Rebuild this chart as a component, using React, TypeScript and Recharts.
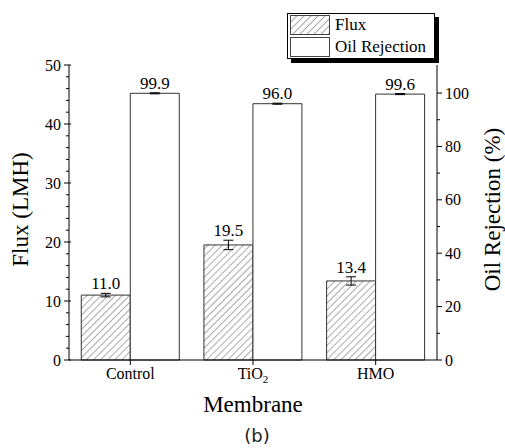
import { ComposedChart, Bar, XAxis, YAxis, ErrorBar, LabelList } from 'recharts';

const membranes = ['Control', 'TiO2', 'HMO'];
const flux = [11.0, 19.5, 13.4];
const fluxErr = [0.3, 0.8, 0.7];
const rejection = [99.9, 96.0, 99.6];
const rejectionErr = [0.2, 0.2, 0.2];
const fluxTicks = [0, 2, 4, 6, 8, 10, 12, 14, 16, 18, 20, 22, 24, 26, 28, 30, 32, 34, 36, 38, 40, 42, 44, 46, 48, 50];
const rejectionTicks = [0, 10, 20, 30, 40, 50, 60, 70, 80, 90, 100];

const data = membranes.map((name, i) => ({
    name,
    flux: flux[i],
    fluxErr: fluxErr[i],
    rejection: rejection[i],
    rejectionErr: rejectionErr[i],
}));

const SERIF = '"Liberation Serif", "Times New Roman", serif';

// axis ticks: labelled majors, shorter unlabelled minors
const YTick = (props: any) => {
    const { x, y, payload, side, every } = props;
    const major = payload.value % every === 0;
    const len = major ? 5 : 3;
    const dir = side === 'left' ? -1 : 1;
    return (
        <g>
            <line x1={major && side === 'left' ? x + 2 : x} x2={x + dir * len} y1={y} y2={y} stroke="#000" />
            {major && (
                <text
                    x={x + dir * (len + 3)}
                    y={y}
                    textAnchor={side === 'left' ? 'end' : 'start'}
                    dominantBaseline="central"
                    style={{ fontFamily: SERIF, fontSize: 16 }}
                    fill="#000"
                >
                    {payload.value}
                </text>
            )}
        </g>
    );
};

const XTick = (props: any) => {
    const { x, y, payload } = props;
    const v = payload.value as string;
    return (
        <text x={x} y={y + 14} textAnchor="middle" style={{ fontFamily: SERIF, fontSize: 16 }} fill="#000">
            {v === 'TiO2' ? (
                <>
                    TiO<tspan style={{ fontSize: 11 }} dy={4}>2</tspan>
                </>
            ) : (
                v
            )}
        </text>
    );
};

const YTitle = (props: any) => {
    const { viewBox, title, cx } = props;
    const cy = viewBox.y + viewBox.height / 2 - 3;
    return (
        <text
            x={cx}
            y={cy}
            transform={`rotate(-90, ${cx}, ${cy})`}
            textAnchor="middle"
            dominantBaseline="central"
            style={{ fontFamily: SERIF, fontSize: 23 }}
            fill="#000"
        >
            {title}
        </text>
    );
};

// value label sits above the error bar
const BarValue = (props: any) => {
    const { x, y, width, height, value, index, errs } = props;
    const errPx = value ? (errs[index] * height) / value : 0;
    return (
        <text
            x={x + width / 2}
            y={y - errPx - 4}
            textAnchor="middle"
            style={{ fontFamily: SERIF, fontSize: 17 }}
            fill="#000"
        >
            {Number(value).toFixed(1)}
        </text>
    );
};

const Hatch = ({ id }: { id: string }) => (
    <pattern id={id} patternUnits="userSpaceOnUse" width={5} height={5} patternTransform="rotate(45)">
        <rect width={5} height={5} fill="#fff" />
        <line x1={0} y1={0} x2={0} y2={5} stroke="#555" strokeWidth={1} />
    </pattern>
);

export default function App() {
    return (
        <div style={{ position: 'absolute', left: 0, top: 0, width: 505, height: 448, background: '#fff' }}>
            <ComposedChart
                width={505}
                height={448}
                data={data}
                margin={{ top: 65, right: 0, bottom: 36, left: 0 }}
                barCategoryGap="10%"
                barGap={0}
            >
                <defs>
                    <Hatch id="hatch" />
                </defs>
                <XAxis
                    dataKey="name"
                    height={52}
                    tickSize={5}
                    tickMargin={0}
                    tick={<XTick />}
                    tickLine={{ stroke: '#000' }}
                    axisLine={{ stroke: '#000' }}
                    interval={0}
                    label={{
                        value: 'Membrane',
                        position: 'insideBottom',
                        offset: 0,
                        style: { fontFamily: SERIF, fontSize: 23, fill: '#000' },
                    }}
                />
                <XAxis
                    xAxisId="top"
                    dataKey="name"
                    orientation="top"
                    height={0}
                    tick={false}
                    tickLine={false}
                    axisLine={{ stroke: '#000' }}
                />
                <YAxis
                    yAxisId="flux"
                    orientation="left"
                    width={69}
                    domain={[0, 50]}
                    ticks={fluxTicks}
                    interval={0}
                    tickSize={0}
                    tickMargin={0}
                    tickLine={false}
                    tick={<YTick side="left" every={10} />}
                    axisLine={{ stroke: '#000' }}
                    label={<YTitle title="Flux (LMH)" cx={20} />}
                />
                <YAxis
                    yAxisId="rej"
                    orientation="right"
                    width={68}
                    domain={[0, 110.5]}
                    ticks={rejectionTicks}
                    interval={0}
                    tickSize={0}
                    tickMargin={0}
                    tickLine={false}
                    tick={<YTick side="right" every={20} />}
                    axisLine={{ stroke: '#000' }}
                    label={<YTitle title="Oil Rejection (%)" cx={492} />}
                />
                <Bar yAxisId="flux" dataKey="flux" fill="url(#hatch)" stroke="#333" strokeWidth={1} isAnimationActive={false}>
                    <ErrorBar dataKey="fluxErr" width={5} stroke="#000" strokeWidth={1} />
                    <LabelList dataKey="flux" content={<BarValue errs={fluxErr} />} />
                </Bar>
                <Bar yAxisId="rej" dataKey="rejection" fill="#fff" stroke="#333" strokeWidth={1} isAnimationActive={false}>
                    <ErrorBar dataKey="rejectionErr" width={5} stroke="#000" strokeWidth={1} />
                    <LabelList dataKey="rejection" content={<BarValue errs={rejectionErr} />} />
                </Bar>
            </ComposedChart>

            {/* legend box with drop shadow */}
            <div
                style={{
                    position: 'absolute',
                    left: 287,
                    top: 13,
                    width: 146,
                    height: 44,
                    border: '1px solid #000',
                    boxShadow: '4px 4px 0 #000',
                    background: '#fff',
                    fontFamily: SERIF,
                    fontSize: 17,
                    color: '#000',
                }}
            >
                {[
                    { label: 'Flux', fill: 'url(#hatchLegend)' },
                    { label: 'Oil Rejection', fill: '#fff' },
                ].map((item, i) => (
                    <div key={item.label} style={{ position: 'absolute', left: 2, top: 1 + i * 22, display: 'flex', alignItems: 'center' }}>
                        <svg width={40} height={20}>
                            <defs>
                                <Hatch id="hatchLegend" />
                            </defs>
                            <rect x={0.5} y={0.5} width={39} height={19} fill={item.fill} stroke="#444" />
                        </svg>
                        <span style={{ marginLeft: 5, lineHeight: '20px' }}>{item.label}</span>
                    </div>
                ))}
            </div>

            <div
                style={{
                    position: 'absolute',
                    left: 0,
                    width: 514,
                    top: 425,
                    textAlign: 'center',
                    fontFamily: '"DejaVu Sans", sans-serif',
                    fontSize: 18,
                    color: '#222',
                }}
            >
                (b)
            </div>
        </div>
    );
}
